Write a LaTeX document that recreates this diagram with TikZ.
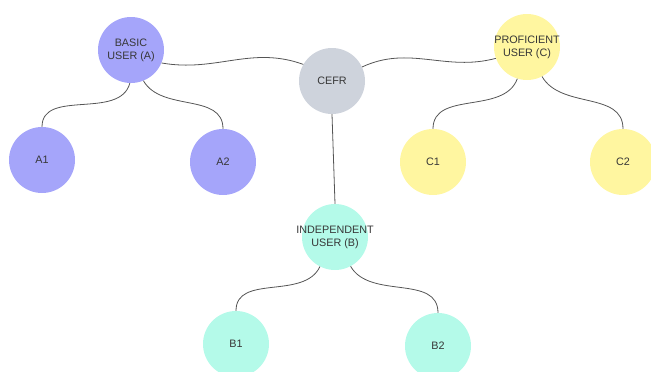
\documentclass[tikz,border=0pt]{standalone}
\usepackage{fontspec}
\setmainfont{Liberation Sans}
\usetikzlibrary{positioning}
\definecolor{basicfill}{RGB}{165,165,250}
\definecolor{cefrfill}{RGB}{206,211,220}
\definecolor{proffill}{RGB}{255,246,160}
\definecolor{indepfill}{RGB}{180,250,233}
\definecolor{txtgray}{RGB}{55,55,55}
\definecolor{linkgray}{RGB}{85,85,85}

\begin{document}
\begin{tikzpicture}[x=1pt, y=-1pt,
  level/.style={circle, minimum size=66pt, inner sep=-10pt, align=center,
    text=txtgray, font=\fontsize{10.8}{13}\selectfont},
  link/.style={draw=linkgray, line width=0.8pt}]

\useasboundingbox (0, 0) rectangle (651, 372);

\node [level, fill=cefrfill] (cefr) at (332, 81) {CEFR};
\node [level, fill=basicfill] (basic) at (131, 50) {BASIC\\USER (A)};
\node [level, fill=proffill] (prof) at (527, 47) {PROFICIENT\\USER (C)};
\node [level, fill=indepfill] (indep) at (335, 237) {INDEPENDENT\\USER (B)};

\node [level, fill=basicfill] (aone) at (42, 160) {A1};
\node [level, fill=basicfill] (atwo) at (223, 162) {A2};
\node [level, fill=proffill] (cone) at (433, 162) {C1};
\node [level, fill=proffill] (ctwo) at (623, 162) {C2};
\node [level, fill=indepfill] (bone) at (236, 344) {B1};
\node [level, fill=indepfill] (btwo) at (438, 346) {B2};

\draw [link] (basic.-23) to [out=-10, in=160] (cefr.150);
\draw [link] (cefr.25) to [out=25, in=195] (prof.-160);
\draw [link] (cefr.south) -- (indep.north);

\draw [link] (basic.-92) to [out=-105, in=90] (aone.north);
\draw [link] (basic.-68) to [out=-60, in=90] (atwo.north);
\draw [link] (prof.-107) to [out=-110, in=90] (cone.north);
\draw [link] (prof.-63) to [out=-60, in=90] (ctwo.north);
\draw [link] (indep.-117) to [out=-115, in=90] (bone.north);
\draw [link] (indep.-62) to [out=-60, in=90] (btwo.north);

\end{tikzpicture}
\end{document}
